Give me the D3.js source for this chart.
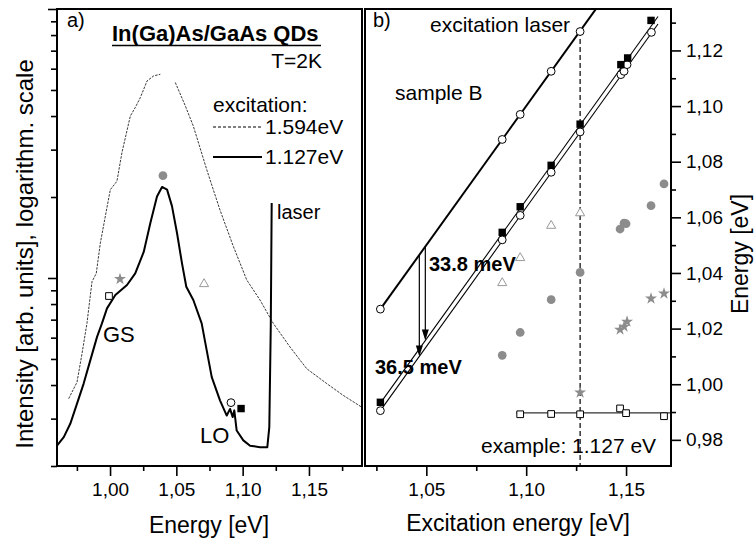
<!DOCTYPE html>
<html>
<head>
<meta charset="utf-8">
<script src="https://cdn.jsdelivr.net/npm/d3@7"></script>
<style>
  body { margin: 0; background: #fff; }
  svg { font-family: "Liberation Sans", Arial, Helvetica, sans-serif; }
</style>
</head>
<body>
<div id="chart"></div>
<script>
// ---- panel a: PL spectra (energy in eV, intensity arb. units, log) ----
const nonresE = [0.9688, 0.9751, 0.9789, 0.9826, 0.9864, 0.9896, 0.9927, 1.0002, 1.0052, 1.0090,
                 1.0153, 1.0190, 1.0228, 1.0279, 1.0329, 1.0379, 1.0420, 1.0492, 1.0568, 1.0628,
                 1.0729, 1.0829, 1.0930, 1.1031, 1.1131, 1.1231, 1.1357, 1.1483, 1.1634, 1.1759, 1.1898]
const nonresI = [3.56, 4.10, 5.25, 6.79, 9.69, 10.4, 13.5, 21.3, 22.9, 29.3,
                 40.0, 43.0, 46.8, 54.0, 56.4, 57.2, null, 53.3, 43.6, 36.7,
                 25.3, 17.9, 13.1, 9.83, 8.28, 6.78, 5.54, 4.60, 4.05, 3.66, 3.31]

const resE = [0.9600, 0.9651, 0.9700, 0.9751, 0.9801, 0.9851, 0.9902, 0.9939, 0.9977, 1.0040,
              1.0128, 1.0190, 1.0254, 1.0304, 1.0354, 1.0392, 1.0430, 1.0467, 1.0505, 1.0543,
              1.0575, 1.0628, 1.0691, 1.0729, 1.0767, 1.0829, 1.0880, 1.0905, 1.0925, 1.0937,
              1.0955, 1.1005, 1.1056, 1.1131, 1.1186, 1.1201, 1.1212, 1.1219]
const resI = [2.38, 2.56, 2.87, 3.41, 4.05, 4.94, 6.04, 6.78, 7.71, 8.64,
              9.42, 10.4, 12.5, 16.0, 20.1, 21.8, 21.3, 18.5, 14.7, 11.3,
              9.28, 8.28, 6.78, 5.38, 4.28, 3.51, 3.08, 3.26, 3.04, 3.22,
              2.71, 2.49, 2.38, 2.35, 2.35, 2.79, 6.58, 19.0]

// peak markers drawn over the spectra
const peakE = [1.0399, 1.0075, 0.9992, 1.0709, 1.0912, 1.0988]
const peakI = [24.0, 9.91, 8.57, 9.5, 3.44, 3.27]
const peakKind = ["gcircle", "star", "osquare", "triangle", "ocircle", "fsquare"]

const logTicks = [2, 3, 4, 5, 6, 7, 8, 9, 20, 30, 40, 50, 60, 70, 80, 90]
const logMajor = [10, 100]

// ---- panel b: peak energy vs excitation energy ----
const laserX = [1.027, 1.088, 1.097, 1.1125, 1.127]
const laserY = [1.027, 1.088, 1.097, 1.1125, 1.1268]

const fsqX = [1.027, 1.088, 1.097, 1.1125, 1.127, 1.1474, 1.1508, 1.1625]
const fsqY = [0.9935, 1.0546, 1.0638, 1.0787, 1.0935, 1.1149, 1.1173, 1.1308]

const ocX = [1.027, 1.088, 1.097, 1.1125, 1.127, 1.1474, 1.1490, 1.1505, 1.1627]
const ocY = [0.9905, 1.0519, 1.0607, 1.0762, 1.0907, 1.1113, 1.1125, 1.1149, 1.1265]

const gcX = [1.088, 1.097, 1.1125, 1.127, 1.147, 1.149, 1.150, 1.1625, 1.169]
const gcY = [1.0104, 1.0186, 1.0304, 1.0402, 1.0558, 1.0579, 1.0577, 1.0642, 1.0720]

const triX = [1.088, 1.097, 1.1125, 1.127]
const triY = [1.0364, 1.0454, 1.0570, 1.0615]

const starX = [1.127, 1.147, 1.149, 1.1505, 1.1625, 1.169]
const starY = [0.9970, 1.0196, 1.0207, 1.0225, 1.0308, 1.0326]

const osqX = [1.097, 1.1125, 1.127, 1.147, 1.150, 1.169]
const osqY = [0.9892, 0.9893, 0.9892, 0.9913, 0.9896, 0.9885]

// fitted lines: laser (offset 0) and the two resonances
const fitOffset = [0, 0.0338, 0.0365]
const fitFrom = [1.026, 1.026, 1.026]
const fitTo = [1.136, 1.166, 1.166]
const fitWidth = [2, 1.1, 1.1]

const arrowX = [1.0495, 1.0465]
const arrowOff = [0.0338, 0.0365]

const gsLevel = 0.9897
const gsFrom = 1.095
const exampleX = 1.127

const bTicks = [1.05, 1.10, 1.15]
const bMinor = [1.025, 1.075, 1.125]
const aTicks = [1.00, 1.05, 1.10, 1.15]
const aMinor = [0.975, 1.025, 1.075, 1.125, 1.175]
const rTicks = [0.98, 1.00, 1.02, 1.04, 1.06, 1.08, 1.10, 1.12]
const rMinor = [0.99, 1.01, 1.03, 1.05, 1.07, 1.09, 1.11, 1.13]

const width = 755, height = 541
const comma = d => d3.format(".2f")(d).replace(".", ",")

const svg = d3.select("#chart").append("svg")
  .attr("width", width).attr("height", height)

const ax = d3.scaleLinear().domain([0.96, 1.19]).range([57, 362])
const ay = d3.scaleLog().domain([2, 100]).range([466, 9])
const bx = d3.scaleLinear().domain([1.0193, 1.1725]).range([365, 671])
const by = d3.scaleLinear().domain([0.9706, 1.1349]).range([466, 9])

const defs = svg.append("defs")
defs.append("clipPath").attr("id", "clipA").append("rect")
  .attr("x", 57).attr("y", 9).attr("width", 305).attr("height", 457)
defs.append("clipPath").attr("id", "clipB").append("rect")
  .attr("x", 365).attr("y", 9).attr("width", 306).attr("height", 457)

// symbol helper
function marker(g, kind, x, y) {
  const gray = "#8c8c8c"
  let sym, size, fill, stroke, sw = 1
  if (kind == "gcircle") { sym = d3.symbolCircle; size = 60; fill = gray; stroke = "none" }
  if (kind == "ocircle") { sym = d3.symbolCircle; size = 48; fill = "#fff"; stroke = "#000" }
  if (kind == "lcircle") { sym = d3.symbolCircle; size = 48; fill = "#fff"; stroke = "#000" }
  if (kind == "fsquare") { sym = d3.symbolSquare; size = 55; fill = "#000"; stroke = "none" }
  if (kind == "osquare") { sym = d3.symbolSquare; size = 45; fill = "#fff"; stroke = "#000" }
  if (kind == "triangle") { sym = d3.symbolTriangle; size = 36; fill = "#fff"; stroke = "#999" }
  if (kind == "star") { sym = d3.symbolStar; size = 45; fill = gray; stroke = "none" }
  g.append("path")
    .attr("d", d3.symbol().type(sym).size(size)())
    .attr("transform", `translate(${x},${y})`)
    .attr("fill", fill).attr("stroke", stroke).attr("stroke-width", sw)
}

// ================= panel a =================
const ga = svg.append("g")

ga.append("path")
  .datum(d3.zip(nonresE, nonresI))
  .attr("clip-path", "url(#clipA)")
  .attr("fill", "none").attr("stroke", "#222").attr("stroke-width", 0.9)
  .attr("stroke-dasharray", "2.5,1.2")
  .attr("d", d3.line().defined(d => d[1] != null).x(d => ax(d[0])).y(d => ay(d[1])))

ga.append("path")
  .datum(d3.zip(resE, resI))
  .attr("clip-path", "url(#clipA)")
  .attr("fill", "none").attr("stroke", "#000").attr("stroke-width", 2)
  .attr("stroke-linejoin", "round")
  .attr("d", d3.line().x(d => ax(d[0])).y(d => ay(d[1])))

peakE.forEach((e, i) => marker(ga, peakKind[i], ax(e), ay(peakI[i])))

// axes a
const aBottom = ga.append("g").attr("transform", "translate(0,466)")
aBottom.call(d3.axisBottom(ax).tickValues(aTicks).tickFormat(comma).tickSize(10).tickPadding(7))
aBottom.append("g").call(d3.axisBottom(ax).tickValues(aMinor).tickFormat("").tickSize(5))
const aLeft = ga.append("g").attr("transform", "translate(57,0)")
aLeft.call(d3.axisLeft(ay).tickValues(logTicks).tickFormat("").tickSize(6))
aLeft.append("g").call(d3.axisLeft(ay).tickValues(logMajor).tickFormat("").tickSize(9))

ga.append("rect").attr("x", 57).attr("y", 9).attr("width", 305).attr("height", 457)
  .attr("fill", "none").attr("stroke", "#000").attr("stroke-width", 2)

// texts a
ga.append("text").attr("x", 67).attr("y", 27).attr("font-size", 20).text("a)")
ga.append("text").attr("x", 112).attr("y", 41).attr("font-size", 22).attr("font-weight", "bold")
  .text("In(Ga)As/GaAs QDs")
ga.append("line").attr("x1", 112).attr("x2", 321).attr("y1", 45.5).attr("y2", 45.5)
  .attr("stroke", "#000").attr("stroke-width", 1.6)
ga.append("text").attr("x", 322).attr("y", 68).attr("font-size", 21).attr("text-anchor", "end").text("T=2K")
ga.append("text").attr("x", 213).attr("y", 112).attr("font-size", 21).text("excitation:")
ga.append("line").attr("x1", 213).attr("x2", 262).attr("y1", 127).attr("y2", 127)
  .attr("stroke", "#000").attr("stroke-width", 1).attr("stroke-dasharray", "3,2")
ga.append("text").attr("x", 265).attr("y", 134).attr("font-size", 21).text("1.594eV")
ga.append("line").attr("x1", 213).attr("x2", 262).attr("y1", 157).attr("y2", 157)
  .attr("stroke", "#000").attr("stroke-width", 2)
ga.append("text").attr("x", 265).attr("y", 164).attr("font-size", 21).text("1.127eV")
ga.append("text").attr("x", 277).attr("y", 219).attr("font-size", 20).text("laser")
ga.append("text").attr("x", 103).attr("y", 342).attr("font-size", 22).text("GS")
ga.append("text").attr("x", 200).attr("y", 443).attr("font-size", 22).text("LO")

ga.append("text").attr("x", 209).attr("y", 533).attr("font-size", 23).attr("text-anchor", "middle")
  .text("Energy [eV]")
ga.append("text").attr("transform", "translate(33,254) rotate(-90)")
  .attr("font-size", 24).attr("text-anchor", "middle")
  .text("Intensity [arb. units], logarithm. scale")

// ================= panel b =================
const gb = svg.append("g")
const gbc = gb.append("g").attr("clip-path", "url(#clipB)")

fitOffset.forEach((off, i) => {
  gbc.append("path")
    .datum([fitFrom[i], fitTo[i]])
    .attr("fill", "none").attr("stroke", "#000").attr("stroke-width", fitWidth[i])
    .attr("d", d3.line().x(d => bx(d)).y(d => by(d - off)))
})

// ground state line and example marker
gbc.append("line")
  .attr("x1", bx(gsFrom)).attr("x2", bx(1.1725))
  .attr("y1", by(gsLevel)).attr("y2", by(gsLevel))
  .attr("stroke", "#333").attr("stroke-width", 1.4)
gbc.append("line")
  .attr("x1", bx(exampleX)).attr("x2", bx(exampleX))
  .attr("y1", by(exampleX)).attr("y2", by(0.9706))
  .attr("stroke", "#000").attr("stroke-width", 1.2).attr("stroke-dasharray", "5,3")

// arrows
arrowX.forEach((x, i) => {
  const px = bx(x), y0 = by(x), y1 = by(x - arrowOff[i])
  gbc.append("line").attr("x1", px).attr("x2", px).attr("y1", y0).attr("y2", y1 - 9)
    .attr("stroke", "#000").attr("stroke-width", 1.2)
  gbc.append("path")
    .attr("d", `M${px - 3.5},${y1 - 11}L${px + 3.5},${y1 - 11}L${px},${y1}Z`)
    .attr("fill", "#000")
})

triX.forEach((x, i) => marker(gbc, "triangle", bx(x), by(triY[i])))
gcX.forEach((x, i) => marker(gbc, "gcircle", bx(x), by(gcY[i])))
starX.forEach((x, i) => marker(gbc, "star", bx(x), by(starY[i])))
osqX.forEach((x, i) => marker(gbc, "osquare", bx(x), by(osqY[i])))
ocX.forEach((x, i) => marker(gbc, "ocircle", bx(x), by(ocY[i])))
fsqX.forEach((x, i) => marker(gbc, "fsquare", bx(x), by(fsqY[i])))
laserX.forEach((x, i) => marker(gbc, "lcircle", bx(x), by(laserY[i])))

// axes b
const bBottom = gb.append("g").attr("transform", "translate(0,466)")
bBottom.call(d3.axisBottom(bx).tickValues(bTicks).tickFormat(comma).tickSize(10).tickPadding(7))
bBottom.append("g").call(d3.axisBottom(bx).tickValues(bMinor).tickFormat("").tickSize(5))
const bRight = gb.append("g").attr("transform", "translate(671,0)")
bRight.call(d3.axisRight(by).tickValues(rTicks).tickFormat(comma).tickSize(10).tickPadding(5))
bRight.append("g").call(d3.axisRight(by).tickValues(rMinor).tickFormat("").tickSize(5))

gb.append("rect").attr("x", 365).attr("y", 9).attr("width", 306).attr("height", 457)
  .attr("fill", "none").attr("stroke", "#000").attr("stroke-width", 2)

// texts b
gb.append("text").attr("x", 373).attr("y", 27).attr("font-size", 20).text("b)")
gb.append("text").attr("x", 430).attr("y", 32).attr("font-size", 21).text("excitation laser")
gb.append("text").attr("x", 395).attr("y", 100).attr("font-size", 21).text("sample B")
gb.append("text").attr("x", 429).attr("y", 271).attr("font-size", 20).attr("font-weight", "bold").text("33.8 meV")
gb.append("text").attr("x", 375).attr("y", 374).attr("font-size", 20).attr("font-weight", "bold").text("36.5 meV")
gb.append("text").attr("x", 481).attr("y", 453).attr("font-size", 21).text("example: 1.127 eV")

gb.append("text").attr("x", 518).attr("y", 531).attr("font-size", 23).attr("text-anchor", "middle")
  .text("Excitation energy [eV]")
gb.append("text").attr("transform", "translate(748,254) rotate(-90)")
  .attr("font-size", 23).attr("text-anchor", "middle")
  .text("Energy [eV]")

// common axis styling
svg.selectAll(".domain").remove()
svg.selectAll(".tick line").attr("stroke", "#000").attr("stroke-width", 1.6)
svg.selectAll(".tick text").attr("font-size", 19).attr("fill", "#000")
  .attr("font-family", "'Liberation Sans', Arial, sans-serif")
</script>
</body>
</html>
